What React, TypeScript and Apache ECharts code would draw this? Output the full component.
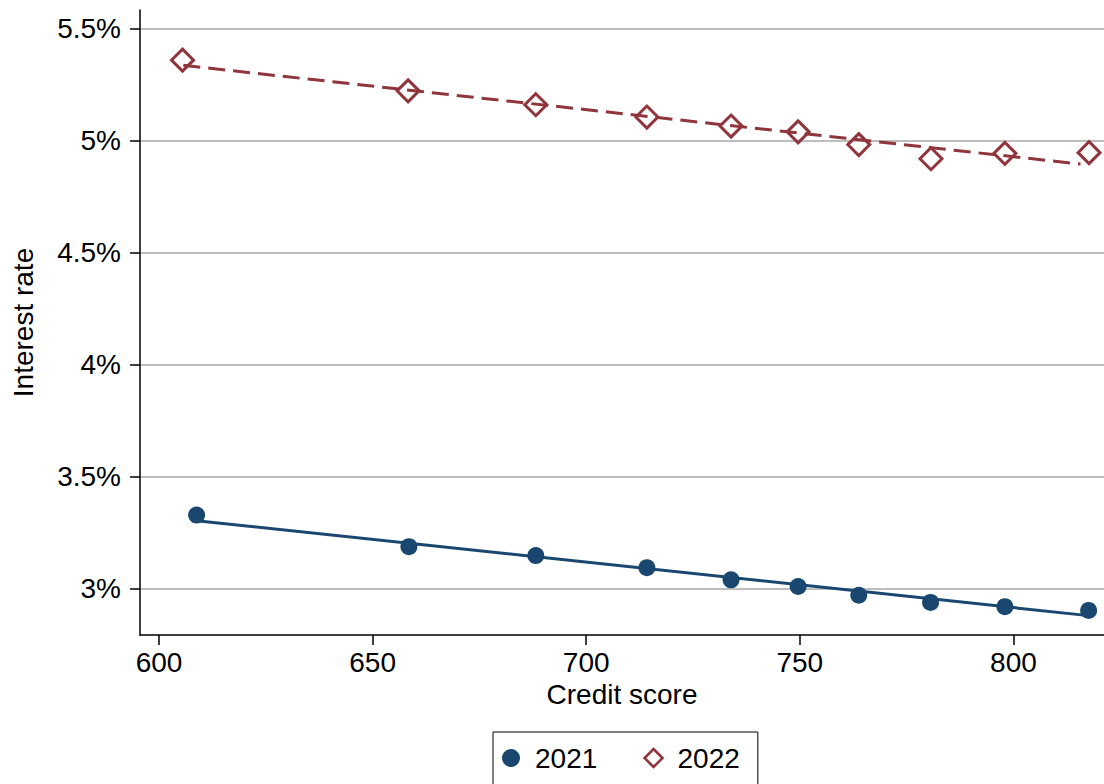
import React, { useEffect, useRef } from "react";
import * as echarts from "echarts";

const xTicks = [600, 650, 700, 750, 800];
const yTicks = [3, 3.5, 4, 4.5, 5, 5.5];

const score2021 = [608.8, 658.5, 688.2, 714.2, 733.9, 749.6, 763.8, 780.6, 798.0, 817.6];
const rate2021 = [3.327, 3.186, 3.146, 3.092, 3.038, 3.008, 2.969, 2.937, 2.918, 2.901];

const score2022 = [605.5, 658.3, 688.2, 714.2, 733.9, 749.6, 763.8, 780.7, 798.0, 817.7];
const rate2022 = [5.358, 5.221, 5.159, 5.104, 5.064, 5.038, 4.981, 4.918, 4.942, 4.945];

const fitX2021 = [608.8, 817.6];
const fitY2021 = [3.302, 2.878];
const fitX2022 = [605.7, 815.7];
const fitY2022 = [5.335, 4.894];

const NAVY = "#1a476f";
const MAROON = "#90353b";
const FONT = "Liberation Sans";

export default function App() {
  const ref = useRef<HTMLDivElement>(null);
  useEffect(() => {
    if (!ref.current) return;
    const chart = echarts.init(ref.current, undefined, { renderer: "svg" });
    const zip = (xs: number[], ys: number[]) => xs.map((x, i) => [x, ys[i]]);
    chart.setOption({
      animation: false,
      backgroundColor: "#ffffff",
      textStyle: { fontFamily: FONT },
      grid: { left: 140, right: 0, top: 10, bottom: 149, containLabel: false },
      legend: {
        data: [
          { name: "2021", icon: "circle" },
          { name: "2022", icon: "diamond", itemStyle: { borderWidth: 2.5 } },
        ],
        left: 493,
        top: 732,
        orient: "horizontal",
        itemWidth: 18,
        itemHeight: 18,
        itemGap: 46,
        padding: [12, 18, 40, 9],
        borderColor: "#000",
        borderWidth: 1,
        textStyle: { fontSize: 28, color: "#000", fontFamily: FONT, padding: [0, 0, 0, 10] },
      },
      xAxis: {
        type: "value",
        min: 595.55,
        max: 821.2,
        name: "Credit score",
        nameLocation: "middle",
        nameGap: 45,
        nameTextStyle: { fontSize: 28, color: "#000", fontFamily: FONT },
        axisLine: { show: true, lineStyle: { color: "#000", width: 1.5 } },
        axisTick: { show: true, length: 10, lineStyle: { color: "#000", width: 1.5 }, customValues: xTicks },
        axisLabel: { fontSize: 28, color: "#000", margin: 13, fontFamily: FONT, customValues: xTicks },
        splitLine: { show: false },
      },
      yAxis: {
        type: "value",
        min: 2.7915,
        max: 5.582,
        name: "Interest rate",
        nameLocation: "middle",
        nameGap: 103,
        nameTextStyle: { fontSize: 28, color: "#000", fontFamily: FONT },
        axisLine: { show: true, lineStyle: { color: "#000", width: 1.5 } },
        axisTick: { show: true, length: 10, lineStyle: { color: "#000", width: 1.5 }, customValues: yTicks },
        axisLabel: {
          fontSize: 28,
          color: "#000",
          margin: 19,
          fontFamily: FONT,
          customValues: yTicks,
          formatter: (v: number) => `${v}%`,
        },
        splitLine: { show: true, lineStyle: { color: "#bdbdbd", width: 2 } },
      },
      series: [
        {
          name: "fit2021",
          type: "line",
          data: zip(fitX2021, fitY2021),
          showSymbol: false,
          lineStyle: { color: NAVY, width: 3 },
          z: 2,
        },
        {
          name: "fit2022",
          type: "line",
          data: zip(fitX2022, fitY2022),
          showSymbol: false,
          lineStyle: { color: MAROON, width: 3, type: [17, 8] },
          z: 2,
        },
        {
          name: "2021",
          type: "scatter",
          symbol: "circle",
          symbolSize: 17,
          data: zip(score2021, rate2021),
          itemStyle: { color: NAVY, opacity: 1 },
          z: 3,
        },
        {
          name: "2022",
          type: "scatter",
          symbol: "diamond",
          symbolSize: 22,
          data: zip(score2022, rate2022),
          itemStyle: { color: "rgba(255,255,255,0)", borderColor: MAROON, borderWidth: 3, opacity: 1 },
          z: 3,
        },
      ],
    });
    return () => chart.dispose();
  }, []);
  return (
    <div
      ref={ref}
      style={{ position: "fixed", left: 0, top: 0, width: 1104, height: 784, background: "#fff" }}
    />
  );
}
